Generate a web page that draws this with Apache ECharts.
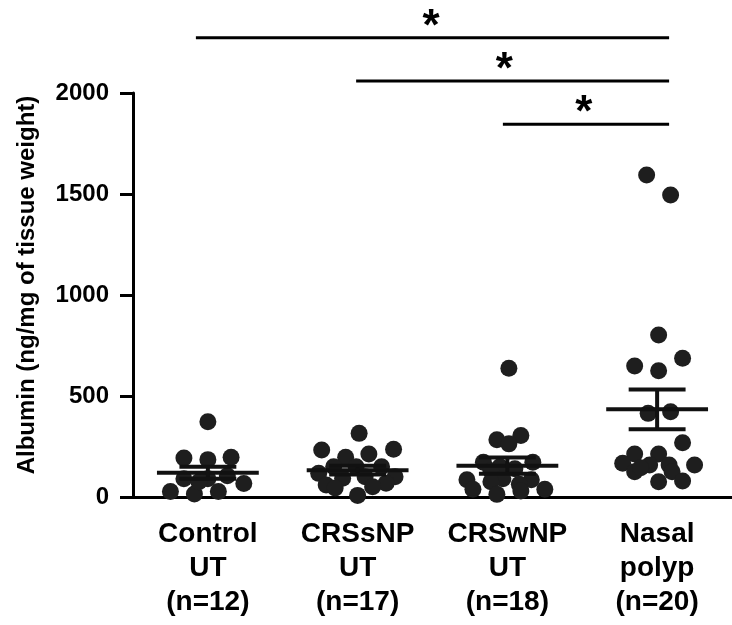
<!DOCTYPE html>
<html>
<head>
<meta charset="utf-8">
<script src="https://cdn.jsdelivr.net/npm/echarts@6/dist/echarts.min.js"></script>
<style>
  html, body { margin: 0; padding: 0; background: #fff; }
  #chart { width: 732px; height: 625px; }
</style>
</head>
<body>
<div id="chart"></div>
<script>
// ---------- data ----------
var groupNames = ['Control', 'CRSsNP', 'CRSwNP', 'Nasal'];
var groupSub   = ['UT', 'UT', 'UT', 'polyp'];
var groupN     = [12, 17, 18, 20];

var yTicks = [0, 500, 1000, 1500, 2000];

// albumin values (ng/mg of tissue weight) and horizontal jitter (category units)
var controlValues  = [372, 193, 185, 197, 90, 90, 105, 67, 27, 15, 27, 75];
var controlJitter  = [0, -0.16, 0, 0.155, -0.16, 0, 0.13, 0.24, -0.25, -0.09, 0.07, -0.06];

var crssnpValues   = [315, 233, 236, 197, 213, 150, 150, 150, 117, 100, 93, 100, 68, 59, 45, 51, 8];
var crssnpJitter   = [0.01, -0.24, 0.24, -0.08, 0.075, -0.16, -0.01, 0.16, -0.26, 0.25, -0.10, 0.05, 0.19, -0.21, -0.15, 0.10, 0];

var crswnpValues   = [637, 305, 283, 263, 172, 172, 150, 140, 130, 90, 85, 85, 75, 63, 38, 13, 30, 38];
var crswnpJitter   = [0.01, 0.09, -0.07, 0.01, -0.16, 0.17, -0.05, 0.05, -0.11, -0.03, 0.16, -0.27, -0.11, 0.08, -0.23, -0.07, 0.09, 0.25];

var polypValues    = [1594, 1495, 802, 649, 625, 687, 414, 422, 269, 213, 167, 213, 158, 158, 158, 125, 125, 76, 79, 145];
var polypJitter    = [-0.07, 0.09, 0.01, -0.15, 0.01, 0.17, -0.06, 0.09, 0.17, -0.15, -0.23, 0.01, -0.05, 0.08, 0.25, -0.15, 0.10, 0.01, 0.17, -0.11];

var groupMeans = [120, 133, 155, 434];
var groupSEM   = [30, 22, 40, 98];

// significance brackets: start, end (category units), level (y value)
var sigStart = [-0.08, 0.99, 1.97];
var sigEnd   = [3.08, 3.08, 3.08];
var sigLevel = [2274, 2059, 1845];
var sigStarX = [1.49, 1.98, 2.51];
var sigLabel = ['*', '*', '*'];

// ---------- build ----------
var FONT = '"Liberation Sans", Arial, Helvetica, sans-serif';
var categories = groupNames.map(function (n, i) {
  return n + '\n' + groupSub[i] + '\n(n=' + groupN[i] + ')';
});

var allValues = [controlValues, crssnpValues, crswnpValues, polypValues];
var allJitter = [controlJitter, crssnpJitter, crswnpJitter, polypJitter];
var points = [];
allValues.forEach(function (vals, g) {
  vals.forEach(function (v, k) { points.push([g + allJitter[g][k], v]); });
});

var meanData = groupMeans.map(function (m, i) { return [i, m, groupSEM[i]]; });
var sigData = sigStart.map(function (s, i) { return [s, sigEnd[i], sigLevel[i], sigStarX[i]]; });

var chart = echarts.init(document.getElementById('chart'), null, { renderer: 'canvas' });

chart.setOption({
  animation: false,
  backgroundColor: '#ffffff',
  grid: { left: 133, right: 0, top: 93, bottom: 128, containLabel: false },
  xAxis: [
    {
      type: 'category',
      data: categories,
      boundaryGap: true,
      axisLine: { lineStyle: { color: '#000', width: 3 } },
      axisTick: { alignWithLabel: true, length: 10, lineStyle: { color: '#000', width: 3 } },
      axisLabel: {
        interval: 0, margin: 20, color: '#000',
        fontFamily: FONT, fontWeight: 'bold', fontSize: 28, lineHeight: 34
      },
      splitLine: { show: false }
    },
    { type: 'value', min: -0.5, max: 3.5, show: false }
  ],
  yAxis: {
    type: 'value',
    min: yTicks[0], max: yTicks[yTicks.length - 1], interval: 500,
    name: 'Albumin (ng/mg of tissue weight)',
    nameLocation: 'middle',
    nameGap: 94,
    nameTextStyle: { fontFamily: FONT, fontWeight: 'bold', fontSize: 24, color: '#000', padding: [0, 0, 0, 20] },
    axisLine: { show: true, onZero: false, lineStyle: { color: '#000', width: 3 } },
    axisTick: { show: true, length: 13, lineStyle: { color: '#000', width: 3 } },
    axisLabel: {
      margin: 24, color: '#000', fontFamily: FONT, fontWeight: 'bold', fontSize: 24,
      formatter: function (v) { return String(v); }
    },
    splitLine: { show: false }
  },
  series: [
    {
      type: 'scatter',
      xAxisIndex: 1,
      data: points,
      symbol: 'circle',
      symbolSize: 17,
      itemStyle: { color: '#1e1e1e', opacity: 1 },
      z: 2
    },
    {
      type: 'custom',
      xAxisIndex: 1,
      data: meanData,
      z: 3,
      renderItem: function (params, api) {
        var x = api.value(0), m = api.value(1), s = api.value(2);
        var L = api.coord([x - 0.34, m]), R = api.coord([x + 0.34, m]);
        var T = api.coord([x, m + s]), B = api.coord([x, m - s]);
        var TL = api.coord([x - 0.19, m + s]), TR = api.coord([x + 0.19, m + s]);
        var BL = api.coord([x - 0.19, m - s]), BR = api.coord([x + 0.19, m - s]);
        var st = { stroke: '#111', lineWidth: 4 };
        return {
          type: 'group',
          children: [
            { type: 'line', shape: { x1: L[0], y1: L[1], x2: R[0], y2: R[1] }, style: st },
            { type: 'line', shape: { x1: T[0], y1: T[1], x2: B[0], y2: B[1] }, style: st },
            { type: 'line', shape: { x1: TL[0], y1: TL[1], x2: TR[0], y2: TR[1] }, style: st },
            { type: 'line', shape: { x1: BL[0], y1: BL[1], x2: BR[0], y2: BR[1] }, style: st }
          ]
        };
      }
    },
    {
      type: 'custom',
      xAxisIndex: 1,
      data: sigData,
      clip: false,
      z: 3,
      renderItem: function (params, api) {
        var a = api.coord([api.value(0), api.value(2)]);
        var b = api.coord([api.value(1), api.value(2)]);
        var star = api.coord([api.value(3), api.value(2)]);
        return {
          type: 'group',
          children: [
            { type: 'line', shape: { x1: a[0], y1: a[1], x2: b[0], y2: b[1] }, style: { stroke: '#000', lineWidth: 3 } },
            {
              type: 'text',
              x: star[0], y: star[1] - 10,
              style: {
                text: sigLabel[params.dataIndex],
                fill: '#000',
                font: 'bold 44px ' + FONT,
                align: 'center',
                verticalAlign: 'middle'
              }
            }
          ]
        };
      }
    }
  ]
});
</script>
</body>
</html>
